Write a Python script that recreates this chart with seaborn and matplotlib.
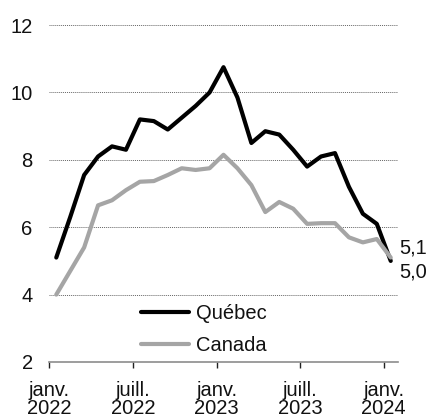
import matplotlib
matplotlib.use("Agg")
import matplotlib.pyplot as plt
import seaborn as sns
import pandas as pd
import numpy as np

# Monthly series, January 2022 to January 2024 (25 months)
months = pd.date_range("2022-01-01", "2024-01-01", freq="MS")
quebec = [5.1, 6.3, 7.55, 8.1, 8.4, 8.3, 9.2, 9.15, 8.9, 9.25, 9.6, 10.0,
          10.75, 9.85, 8.5, 8.85, 8.75, 8.3, 7.8, 8.1, 8.2, 7.2, 6.4, 6.1, 5.0]
canada = [4.0, 4.7, 5.4, 6.65, 6.8, 7.1, 7.35, 7.37, 7.55, 7.75, 7.7, 7.75,
          8.15, 7.75, 7.25, 6.45, 6.75, 6.55, 6.1, 6.12, 6.12, 5.7, 5.55, 5.65, 5.1]
series_names = ["Québec", "Canada"]
series_colors = ["#000000", "#a5a5a5"]
tick_positions = [0, 6, 12, 18, 24]
tick_labels = ["janv.\n2022", "juill.\n2022", "janv.\n2023", "juill.\n2023", "janv.\n2024"]
y_ticks = [2, 4, 6, 8, 10, 12]

# Points sit mid-month; ticks mark the start of each month
x_pos = np.arange(len(months)) + 0.5
df = pd.DataFrame({
    "x": np.concatenate([x_pos, x_pos]),
    "value": quebec + canada,
    "series": [series_names[0]] * len(quebec) + [series_names[1]] * len(canada),
})

sns.set_theme(style="white")
plt.rcParams["font.family"] = ["Liberation Sans", "DejaVu Sans"]

fig = plt.figure(figsize=(4.28, 4.18), dpi=100)
ax = fig.add_axes([0.1152, 0.134, 0.814, 0.806])

sns.lineplot(data=df, x="x", y="value", hue="series", hue_order=series_names,
             palette=series_colors, linewidth=3.0, ax=ax, legend=True)
for line in ax.get_lines():
    line.set_solid_capstyle("round")
    line.set_solid_joinstyle("round")

ax.set_xlim(0, 25)
ax.set_ylim(2, 12)
ax.set_xticks(tick_positions)
ax.set_xticklabels(tick_labels, linespacing=0.95)
ax.set_yticks(y_ticks)
ax.set_xlabel("")
ax.set_ylabel("")

for v in y_ticks[1:]:
    ax.axhline(v, color="#666666", linewidth=0.7, linestyle=(0, (1, 1)), zorder=0)

for side in ["top", "right", "left"]:
    ax.spines[side].set_visible(False)
ax.spines["bottom"].set_color("#8c8c8c")
ax.spines["bottom"].set_linewidth(1.2)

ax.tick_params(axis="x", direction="out", length=4.5, width=1.0, color="#222222",
               labelsize=14.5, labelcolor="#111111", pad=9, bottom=True)
ax.tick_params(axis="y", length=0, labelsize=14.5, labelcolor="#111111", pad=12)

# End-of-series value labels
ax.annotate(f"{canada[-1]:.1f}".replace(".", ","), xy=(x_pos[-1], canada[-1]),
            xytext=(6, 7), textcoords="offset points", fontsize=14.5,
            color="#111111", va="center", ha="left")
ax.annotate(f"{quebec[-1]:.1f}".replace(".", ","), xy=(x_pos[-1], quebec[-1]),
            xytext=(6, -8), textcoords="offset points", fontsize=14.5,
            color="#111111", va="center", ha="left")

leg = ax.legend(loc="center left", bbox_to_anchor=(0.262, 0.0964), frameon=False,
                fontsize=14.5, handlelength=2.4, handletextpad=0.35,
                labelspacing=0.62, borderpad=0, borderaxespad=0)
for h in leg.get_lines():
    h.set_linewidth(3.0)
    h.set_solid_capstyle("round")
for t in leg.get_texts():
    t.set_color("#111111")

fig.savefig("out.png", dpi=100)
